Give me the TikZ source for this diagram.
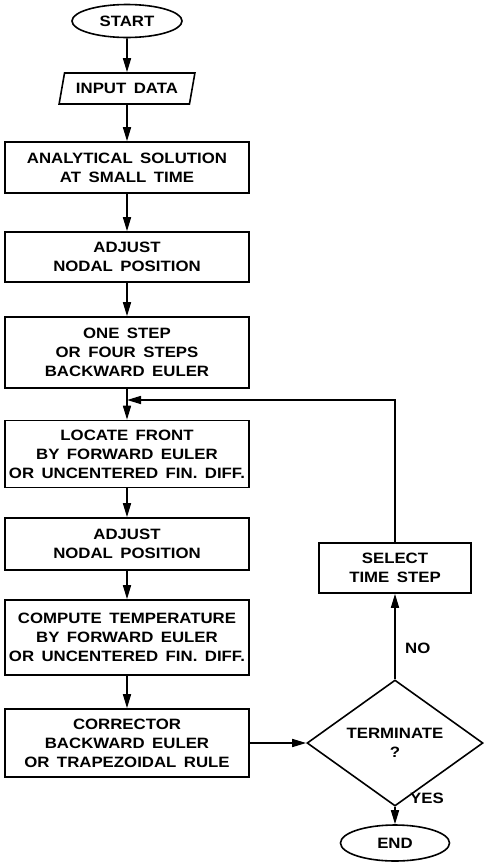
\documentclass[tikz,border=0pt]{standalone}
\usepackage{fontspec}
\setmainfont{Liberation Sans}[FakeStretch=1.12, WordSpace=1.6]
\usetikzlibrary{shapes.geometric, arrows.meta}

\tikzset{
  every node/.style={font=\fontsize{15}{19}\selectfont\bfseries, inner sep=0pt},
  flow/.style={line width=1.6pt, -{Triangle[length=14pt, width=8pt]}},
  procbox/.style={draw, line width=1.6pt, rectangle, minimum width=244pt, align=center},
  termbox/.style={draw, line width=1.6pt, ellipse, minimum width=110pt, minimum height=33pt},
  iobox/.style={draw, line width=1.6pt, trapezium, trapezium stretches=true,
    trapezium left angle=67, trapezium right angle=113,
    minimum width=136pt, minimum height=31pt},
  decbox/.style={draw, line width=1.6pt, diamond, minimum width=176pt, minimum height=94pt, align=center},
  tag/.style={anchor=west}
}

\begin{document}
\begin{tikzpicture}[x=1pt, y=-1pt]
  \useasboundingbox (0,0) rectangle (484,863);

  % main column
  \node[termbox] (start) at (127,21) {START};
  \node[iobox] (inp) at (127,88.5) {INPUT DATA};
  \node[procbox, minimum height=51pt] (anal) at (127,167.5) {ANALYTICAL SOLUTION\\AT SMALL TIME};
  \node[procbox, minimum height=50pt] (adj1) at (127,257) {ADJUST\\NODAL POSITION};
  \node[procbox, minimum height=71pt] (one) at (127,352.5) {ONE STEP\\OR FOUR STEPS\\BACKWARD EULER};
  \node[procbox, minimum height=67pt] (loc) at (127,454) {LOCATE FRONT\\BY FORWARD EULER\\OR UNCENTERED FIN. DIFF.};
  \node[procbox, minimum height=52pt] (adj2) at (127,544) {ADJUST\\NODAL POSITION};
  \node[procbox, minimum height=75pt] (comp) at (127,637.5) {COMPUTE TEMPERATURE\\BY FORWARD EULER\\OR UNCENTERED FIN. DIFF.};
  \node[procbox, minimum height=68pt] (corr) at (127,743) {CORRECTOR\\BACKWARD EULER\\OR TRAPEZOIDAL RULE};

  % right column
  \node[decbox] (dec) at (395,743) {TERMINATE\\?};
  \node[procbox, minimum width=152pt, minimum height=50pt] (sel) at (395,568) {SELECT\\TIME STEP};
  \node[termbox, minimum width=109pt, minimum height=36pt] (fin) at (395,843) {END};

  % loop re-entry point
  \coordinate (j) at (127,400);

  % connectors
  \draw[flow] (start) -- (inp);
  \draw[flow] (inp) -- (anal);
  \draw[flow] (anal) -- (adj1);
  \draw[flow] (adj1) -- (one);
  \draw[flow] (one) -- (loc);
  \draw[flow] (loc) -- (adj2);
  \draw[flow] (adj2) -- (comp);
  \draw[flow] (comp) -- (corr);
  \draw[flow] (corr) -- (dec);
  \draw[flow] (dec) -- (sel);
  \draw[flow] (sel.north) |- (j);
  \draw[flow] (dec) -- (fin);

  % branch labels
  \node[tag] (no) at (405,648) {NO};
  \node[tag] (yes) at (410,798) {YES};
\end{tikzpicture}
\end{document}
